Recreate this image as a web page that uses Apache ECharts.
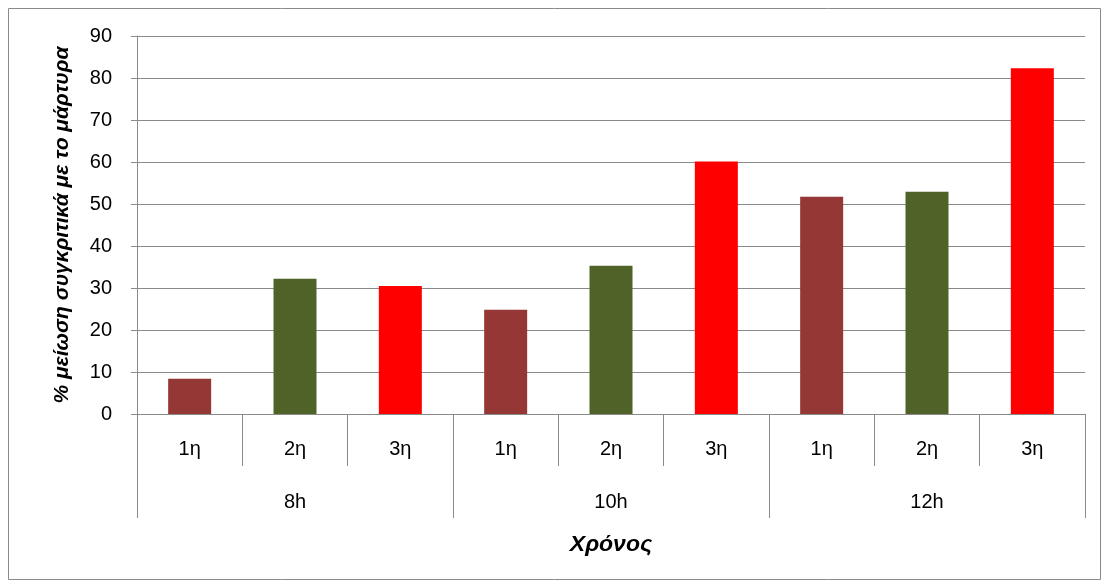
<!DOCTYPE html>
<html>
<head>
<meta charset="utf-8">
<script src="https://cdn.jsdelivr.net/npm/echarts@6/dist/echarts.min.js"></script>
<style>
  html, body { margin: 0; padding: 0; background: #ffffff; }
  #chart { width: 1110px; height: 587px; }
</style>
</head>
<body>
<div id="chart"></div>
<script>
// Reduction (%) versus control, per application (1η/2η/3η) and time point
const groups = ['8h', '10h', '12h'];
const applications = ['1η', '2η', '3η'];
const values8h = [8.4, 32.2, 30.5];
const values10h = [24.8, 35.3, 60.1];
const values12h = [51.7, 52.9, 82.3];
const yTicks = [0, 10, 20, 30, 40, 50, 60, 70, 80, 90];
const appColors = ['#953735', '#4F6228', '#FF0000'];

const allValues = [values8h, values10h, values12h];
const categories = [];
const barData = [];
groups.forEach((g, gi) => {
  applications.forEach((a, ai) => {
    categories.push(a);
    barData.push({ value: allValues[gi][ai], itemStyle: { color: appColors[ai] } });
  });
});

const FONT = 'Liberation Sans';
const GRAY = '#8a8a8a';

const chart = echarts.init(document.getElementById('chart'), null, { renderer: 'canvas' });
chart.setOption({
  animation: false,
  backgroundColor: '#ffffff',
  grid: { left: 137, right: 25, top: 36, bottom: 173, containLabel: false },
  xAxis: [
    {
      type: 'category',
      data: categories,
      position: 'bottom',
      axisLine: { show: true, lineStyle: { color: GRAY, width: 1 } },
      axisTick: { show: true, interval: 0, length: 52, lineStyle: { color: GRAY, width: 1 } },
      axisLabel: { interval: 0, margin: 25, color: '#000', fontFamily: FONT, fontSize: 20 },
      splitLine: { show: false }
    },
    {
      type: 'category',
      data: groups,
      position: 'bottom',
      offset: 52,
      axisLine: { show: false },
      axisTick: { show: true, interval: 0, length: 52, lineStyle: { color: GRAY, width: 1 } },
      axisLabel: { interval: 0, margin: 26, color: '#000', fontFamily: FONT, fontSize: 20 },
      splitLine: { show: false }
    }
  ],
  yAxis: {
    type: 'value',
    min: yTicks[0],
    max: yTicks[yTicks.length - 1],
    interval: 10,
    axisLine: { show: true, lineStyle: { color: GRAY, width: 1 } },
    axisTick: { show: true, length: 6, lineStyle: { color: GRAY, width: 1 } },
    axisLabel: { margin: 25, color: '#000', fontFamily: FONT, fontSize: 20 },
    splitLine: { show: true, lineStyle: { color: GRAY, width: 1 } }
  },
  series: [
    {
      type: 'bar',
      xAxisIndex: 0,
      data: barData,
      barWidth: 43
    }
  ],
  graphic: [
    {
      type: 'rect',
      shape: { x: 8.5, y: 8.5, width: 1092, height: 571 },
      style: { fill: 'none', stroke: GRAY, lineWidth: 1 },
      silent: true,
      z: -10
    },
    {
      type: 'text',
      x: 611,
      y: 545,
      style: {
        text: 'Χρόνος',
        fontFamily: FONT,
        fontSize: 23,
        fontWeight: 'bold',
        fontStyle: 'italic',
        fill: '#000',
        align: 'center',
        verticalAlign: 'middle'
      }
    },
    {
      type: 'text',
      x: 62,
      y: 225,
      rotation: Math.PI / 2,
      style: {
        text: '% μείωση συγκριτικά με το μάρτυρα',
        fontFamily: FONT,
        fontSize: 21,
        fontWeight: 'bold',
        fontStyle: 'italic',
        fill: '#000',
        align: 'center',
        verticalAlign: 'middle'
      }
    }
  ]
});
</script>
</body>
</html>
